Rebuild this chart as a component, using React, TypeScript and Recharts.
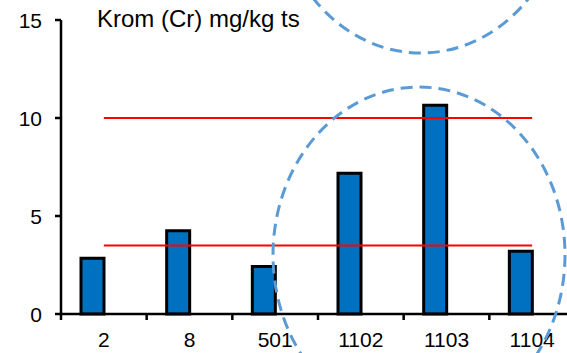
import { Bar, ComposedChart, Line, XAxis, YAxis } from "recharts";

const sites = ["2", "8", "501", "1102", "1103", "1104"];
const chromium = [2.85, 4.25, 2.42, 7.18, 10.65, 3.2];
const upperLimit = [10, 10, 10, 10, 10, 10];
const lowerLimit = [3.5, 3.5, 3.5, 3.5, 3.5, 3.5];
const yTicks = [0, 5, 10, 15];

const rows = sites.map((site, i) => ({
  site,
  cr: chromium[i],
  empty: null,
  upper: upperLimit[i],
  lower: lowerLimit[i],
}));

const CHART_W = 600;
const CHART_H = 353;
const MARGIN = { top: 20, right: 25, bottom: 0, left: 0 };
const Y_AXIS_W = 61;
const BAND = (CHART_W - MARGIN.left - MARGIN.right - Y_AXIS_W) / sites.length;
const FONT = '"Liberation Sans", Arial, sans-serif';

const XTick = ({ x, y, payload }: any) => (
  <g>
    <line x1={x - BAND / 2} x2={x - BAND / 2} y1={y} y2={y + 6} stroke="#000" strokeWidth={2.5} />
    <text x={x} y={y + 33} textAnchor="middle" fontSize={21} fontFamily={FONT} fill="#000">
      {payload.value}
    </text>
  </g>
);

const YTick = ({ x, y, payload }: any) => (
  <text x={x} y={y} dy="0.36em" textAnchor="end" fontSize={21} fontFamily={FONT} fill="#000">
    {payload.value}
  </text>
);

export default function App() {
  return (
    <div
      style={{
        position: "absolute",
        left: 0,
        top: 0,
        width: 567,
        height: 353,
        overflow: "hidden",
        background: "#fff",
        fontFamily: FONT,
      }}
    >
      <ComposedChart width={CHART_W} height={CHART_H} data={rows} margin={MARGIN} barGap={0}>
        <XAxis
          dataKey="site"
          height={39}
          tickSize={0}
          tickMargin={0}
          tickLine={false}
          axisLine={{ stroke: "#000", strokeWidth: 2.5 }}
          tick={<XTick />}
          interval={0}
        />
        <YAxis
          width={Y_AXIS_W}
          domain={[0, 15]}
          ticks={yTicks}
          tickSize={6}
          tickMargin={13}
          tickLine={{ stroke: "#000", strokeWidth: 2.5 }}
          axisLine={{ stroke: "#000", strokeWidth: 2.5 }}
          tick={<YTick />}
        />
        <Bar dataKey="cr" fill="#0070C0" stroke="#000" strokeWidth={3} barSize={23} isAnimationActive={false} />
        <Bar dataKey="empty" fill="#0070C0" barSize={23} isAnimationActive={false} />
        <Line dataKey="upper" stroke="#FF0000" strokeWidth={2} dot={false} activeDot={false} isAnimationActive={false} />
        <Line dataKey="lower" stroke="#FF0000" strokeWidth={2} dot={false} activeDot={false} isAnimationActive={false} />
      </ComposedChart>
      <svg width={567} height={353} style={{ position: "absolute", left: 0, top: 0, pointerEvents: "none" }}>
        <text x={97} y={27} fontSize={24} fontFamily={FONT} fill="#000">
          Krom (Cr) mg/kg ts
        </text>
        <ellipse cx={421} cy={-115} rx={146} ry={168} fill="none" stroke="#5B9BD5" strokeWidth={3} strokeDasharray="12 7" />
        <ellipse cx={419} cy={255} rx={146} ry={168} fill="none" stroke="#5B9BD5" strokeWidth={3} strokeDasharray="12 7" />
      </svg>
    </div>
  );
}
